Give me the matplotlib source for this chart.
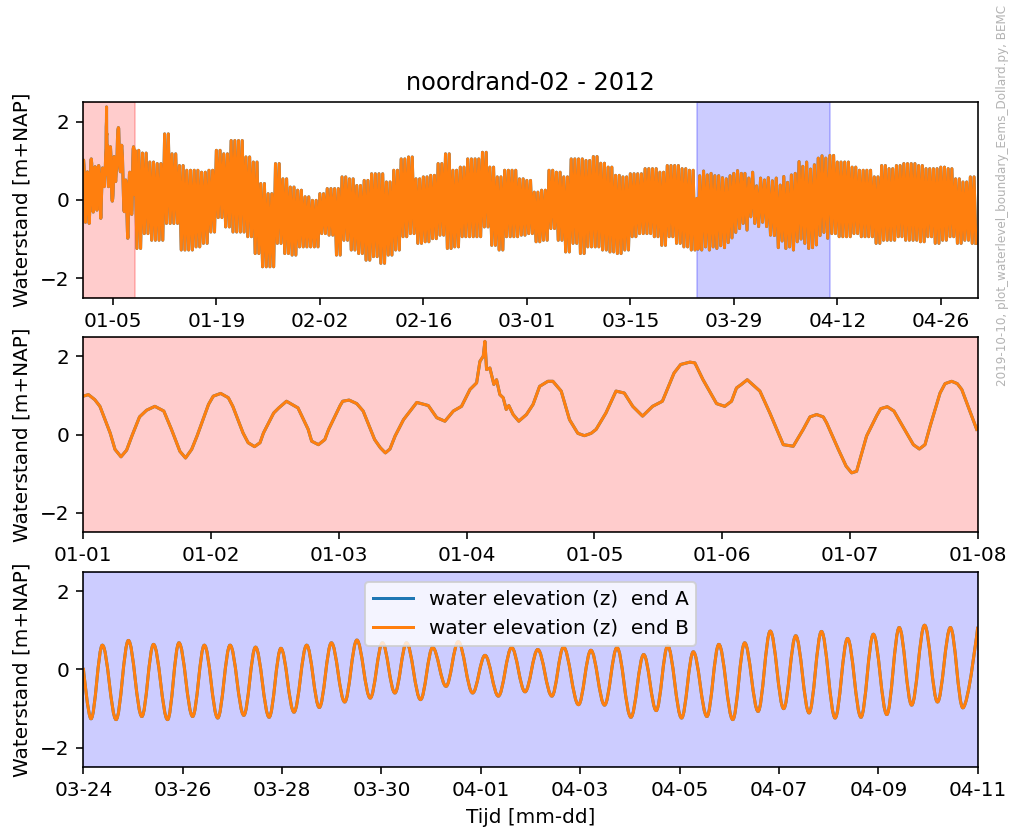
import datetime as dt
import numpy as np
import matplotlib
matplotlib.use('Agg')
import matplotlib.pyplot as plt
import matplotlib.dates as mdates
from matplotlib.path import Path
from matplotlib.patches import PathPatch
from matplotlib.lines import Line2D

# --- 01-01 .. 01-08 : water level [m+NAP], time in days since 2012-01-01
jan_t = [0.00, 0.04, 0.09, 0.13, 0.21, 0.248, 0.295, 0.339, 0.38, 0.44, 0.495, 0.56, 0.63, 0.69,
         0.756, 0.80, 0.848, 0.89, 0.98, 1.017, 1.075, 1.135, 1.17, 1.25, 1.29, 1.34, 1.383, 1.41,
         1.49, 1.53, 1.59, 1.68, 1.76, 1.787, 1.84, 1.89, 1.92, 2.01, 2.03, 2.08, 2.14, 2.19, 2.28,
         2.325, 2.364, 2.40, 2.44, 2.506, 2.558, 2.61, 2.70, 2.766, 2.83, 2.896, 2.96, 3.026, 3.078,
         3.104, 3.13, 3.143, 3.156, 3.182, 3.213, 3.234, 3.26, 3.286, 3.31, 3.33, 3.364, 3.408,
         3.468, 3.52, 3.571, 3.636, 3.675, 3.74, 3.805, 3.87, 3.922, 3.974, 4.013, 4.09, 4.169,
         4.234, 4.30, 4.377, 4.455, 4.532, 4.623, 4.675, 4.747, 4.786, 4.85, 4.956, 5.02, 5.073,
         5.112, 5.15, 5.196, 5.295, 5.373, 5.478, 5.556, 5.634, 5.687, 5.739, 5.791, 5.817, 5.909,
         5.97, 6.013, 6.052, 6.13, 6.209, 6.24, 6.292, 6.344, 6.39, 6.496, 6.543, 6.587, 6.627,
         6.705, 6.744, 6.796, 6.84, 6.875, 6.992]
jan_z = [0.98, 1.02, 0.89, 0.72, 0.04, -0.38, -0.57, -0.40, -0.04, 0.45, 0.62, 0.72, 0.60, 0.13,
         -0.43, -0.60, -0.38, -0.04, 0.77, 0.98, 1.05, 0.94, 0.72, 0.04, -0.21, -0.31, -0.21, 0.04,
         0.55, 0.68, 0.85, 0.68, 0.13, -0.17, -0.26, -0.13, 0.13, 0.74, 0.85, 0.88, 0.79, 0.60, -0.13,
         -0.34, -0.47, -0.37, -0.04, 0.38, 0.60, 0.82, 0.74, 0.43, 0.34, 0.60, 0.72, 1.15, 1.32,
         1.87, 2.00, 2.38, 1.66, 1.70, 1.28, 1.40, 1.02, 0.94, 0.64, 0.74, 0.51, 0.34,
         0.51, 0.77, 1.23, 1.36, 1.36, 1.11, 0.38, 0.03, -0.03, 0.03, 0.13, 0.55, 1.11,
         1.06, 0.72, 0.47, 0.72, 0.85, 1.57, 1.79, 1.85, 1.83, 1.40, 0.79, 0.72, 0.85,
         1.19, 1.28, 1.40, 1.11, 0.55, -0.26, -0.30, 0.13, 0.45, 0.51, 0.45, 0.30, -0.38,
         -0.81, -0.98, -0.94, -0.04, 0.48, 0.66, 0.71, 0.60, 0.34, -0.26, -0.37, -0.26, 0.21,
         1.06, 1.30, 1.36, 1.30, 1.15, 0.13]

# --- 03-24 .. 04-11 : high and low waters, time in days since 2012-03-24
mar_t = [0.0, 0.155, 0.384, 0.66, 0.908, 1.178, 1.413, 1.696, 1.925, 2.2, 2.436, 2.705, 2.954,
         3.23, 3.466, 3.74, 3.977, 4.24, 4.495, 4.75, 4.993, 5.26, 5.505, 5.774, 6.02, 6.27,
         6.504, 6.787, 7.03, 7.30, 7.546, 7.835, 8.084, 8.353, 8.62, 8.89, 9.146, 9.43, 9.664,
         9.966, 10.215, 10.49, 10.74, 11.02, 11.277, 11.53, 11.76, 12.04, 12.276, 12.55, 12.79,
         13.07, 13.31, 13.58, 13.825, 14.094, 14.337, 14.606, 14.855, 15.13, 15.38, 15.65, 15.9,
         16.17, 16.42, 16.67, 16.93, 17.19, 17.45, 17.70, 18.0]
mar_z = [0.04, -1.26, 0.62, -1.28, 0.74, -1.20, 0.64, -1.28, 0.68, -1.20, 0.62, -1.24, 0.62,
         -1.17, 0.57, -1.22, 0.54, -1.09, 0.62, -0.97, 0.68, -0.83, 0.75, -0.73, 0.68, -0.60,
         0.68, -0.77, 0.56, -0.43, 0.71, -0.60, 0.36, -0.68, 0.56, -0.57, 0.51, -0.68, 0.57,
         -0.90, 0.49, -0.91, 0.56, -1.22, 0.38, -1.05, 0.60, -1.24, 0.45, -1.20, 0.64,
         -1.28, 0.68, -1.07, 0.98, -1.00, 0.86, -1.11, 0.97, -1.24, 0.79, -1.22, 0.90,
         -1.15, 1.07, -0.91, 1.13, -0.83, 1.07, -0.98, 1.09]

# --- daily high / low water for the rest of the record
hw_jan_mar = [1.27, 1.20, 0.97, 0.93, 1.69, 1.18, 0.88, 0.76, 0.76, 0.71, 0.76, 1.27, 1.18, 1.52,
              1.52, 1.10, 0.97, 0.42, 0.16, 0.93, 0.54, 0.33, 0.25, 0.08, -0.01, 0.16, 0.29, 0.29,
              0.59, 0.54, 0.37, 0.50, 0.67, 0.67, 0.46, 0.76, 1.05, 1.10, 0.54, 0.59, 0.63, 0.93,
              1.18, 0.76, 0.84, 1.05, 1.05, 1.22, 0.84, 0.59, 0.76, 0.76, 0.54, 0.50, 0.20, 0.25,
              0.76, 0.71, 0.59, 1.05, 1.05, 1.01, 1.11, 0.94, 0.84, 0.63, 0.59, 0.67, 0.67, 0.80,
              0.80, 0.71, 0.88, 0.88, 0.80, 0.76]
lw_jan_mar = [-1.24, -0.86, -1.03, -1.03, -0.60, -0.60, -1.28, -1.28, -1.20, -1.11, -0.82, -0.45,
              -0.69, -0.82, -0.82, -0.94, -1.37, -1.71, -1.71, -1.11, -1.37, -1.41, -1.20, -1.20,
              -1.20, -0.86, -0.90, -1.41, -1.03, -1.28, -1.37, -1.54, -1.45, -1.62, -1.41, -1.28,
              -0.94, -0.86, -1.11, -1.07, -0.99, -0.90, -1.24, -1.20, -0.94, -0.94, -0.94, -0.69,
              -1.16, -1.28, -0.94, -0.94, -0.90, -0.86, -1.07, -1.03, -0.73, -1.03, -1.33, -1.11,
              -1.37, -1.20, -1.20, -1.28, -1.33, -1.37, -1.28, -0.94, -0.86, -0.86, -0.94, -1.16,
              -0.94, -1.11, -1.20, -1.28]
hw_apr = [1.14, 0.97, 0.97, 0.84, 0.76, 0.76, 0.59, 0.88, 0.80, 0.88, 0.93, 0.93, 0.88, 0.80,
          0.80, 0.84, 0.80, 0.54, 0.46, 0.59]
lw_apr = [-0.86, -0.94, -0.94, -0.86, -0.94, -0.94, -1.11, -1.03, -1.03, -0.94, -1.03, -1.03,
          -1.07, -0.94, -1.11, -1.03, -0.94, -1.11, -1.03, -1.11]

labels = ['water elevation (z)  end A', 'water elevation (z)  end B']
colors = ['C0', 'C1']

jan1 = mdates.date2num(dt.datetime(2012, 1, 1))
jan8 = mdates.date2num(dt.datetime(2012, 1, 8))
mar24 = mdates.date2num(dt.datetime(2012, 3, 24))
apr11 = mdates.date2num(dt.datetime(2012, 4, 11))
may1 = mdates.date2num(dt.datetime(2012, 5, 1))


def zigzag(first_day, hw, lw):
    # two tides a day between the daily high and low water
    t, z = [], []
    for i in range(len(hw)):
        d = jan1 + first_day + i
        t += [d, d + 0.25, d + 0.5, d + 0.75]
        z += [hw[i], lw[i], hw[i], lw[i]]
    return t, z


def tide_path(x, y, k=0.36):
    # smooth curve through successive high and low waters
    verts = [(x[0], y[0])]
    codes = [Path.MOVETO]
    n = len(x)
    for i in range(1, n):
        dx = x[i] - x[i - 1]
        c1 = (x[i - 1] + k * dx, y[i - 1]) if i > 1 else (x[0], y[0])
        c2 = (x[i] - k * dx, y[i]) if i < n - 1 else (x[i], y[i])
        verts += [c1, c2, (x[i], y[i])]
        codes += [Path.CURVE4] * 3
    return Path(verts, codes)


jan_x = jan1 + np.array(jan_t)
mar_x = mar24 + np.array(mar_t)

za_t, za_z = zigzag(7, hw_jan_mar, lw_jan_mar)
zb_t, zb_z = zigzag(101, hw_apr, lw_apr)
all_x = np.concatenate([jan_x, za_t, mar_x, zb_t])
all_z = np.concatenate([jan_z, za_z, mar_z, zb_z])

fig = plt.figure(figsize=(7.0209, 5.7779))
fmt = mdates.DateFormatter('%m-%d')

#----------------------------------------------------------
ax1 = fig.add_axes([0.0824, 0.6422, 0.8847, 0.2349])
ax1.axvspan(jan1, jan8, color='r', alpha=0.2)
ax1.axvspan(mar24, apr11, color='b', alpha=0.2)
for c in colors:
    ax1.plot(all_x, all_z, color=c)
ax1.set_xlim(jan1, may1)
ax1.set_xticks(mdates.date2num(np.arange(np.datetime64('2012-01-05'), np.datetime64('2012-05-01'),
                                         np.timedelta64(14, 'D'))))
ax1.set_ylabel('Waterstand [m+NAP]')
ax1.set_title('noordrand-02 - 2012')

#----------------------------------------------------------
ax2 = fig.add_axes([0.0824, 0.3602, 0.8847, 0.2351])
ax2.axvspan(jan1, jan8, color='r', alpha=0.2)
for c in colors:
    ax2.plot(jan_x, jan_z, color=c)
ax2.set_xlim(jan1, jan8)
ax2.set_xticks(mdates.date2num(np.arange(np.datetime64('2012-01-01'), np.datetime64('2012-01-09'),
                                         np.timedelta64(1, 'D'))))
ax2.set_ylabel('Waterstand [m+NAP]')

#----------------------------------------------------------
ax3 = fig.add_axes([0.0824, 0.0778, 0.8847, 0.2351])
ax3.axvspan(mar24, apr11, color='b', alpha=0.2)
for c in colors:
    ax3.add_patch(PathPatch(tide_path(mar_x, mar_z), facecolor='none', edgecolor=c, lw=1.5))
ax3.set_xlim(mar24, apr11)
ax3.set_xticks(mdates.date2num(np.arange(np.datetime64('2012-03-24'), np.datetime64('2012-04-12'),
                                         np.timedelta64(2, 'D'))))
ax3.set_ylabel('Waterstand [m+NAP]')
ax3.set_xlabel('Tijd [mm-dd]')
handles = [Line2D([], [], color=c) for c in colors]
ax3.legend(handles, labels, loc='upper center')

for ax in (ax1, ax2, ax3):
    ax.set_ylim(-2.5, 2.5)
    ax.set_yticks([-2, 0, 2])
    ax.xaxis.set_major_formatter(fmt)

fig.text(0.992, 0.994, '2019-10-10, plot_waterlevel_boundary_Eems_Dollard.py, BEMC',
         rotation=90, ha='center', va='top', fontsize=6, color='0.7')

fig.savefig('out.png', dpi=144)
